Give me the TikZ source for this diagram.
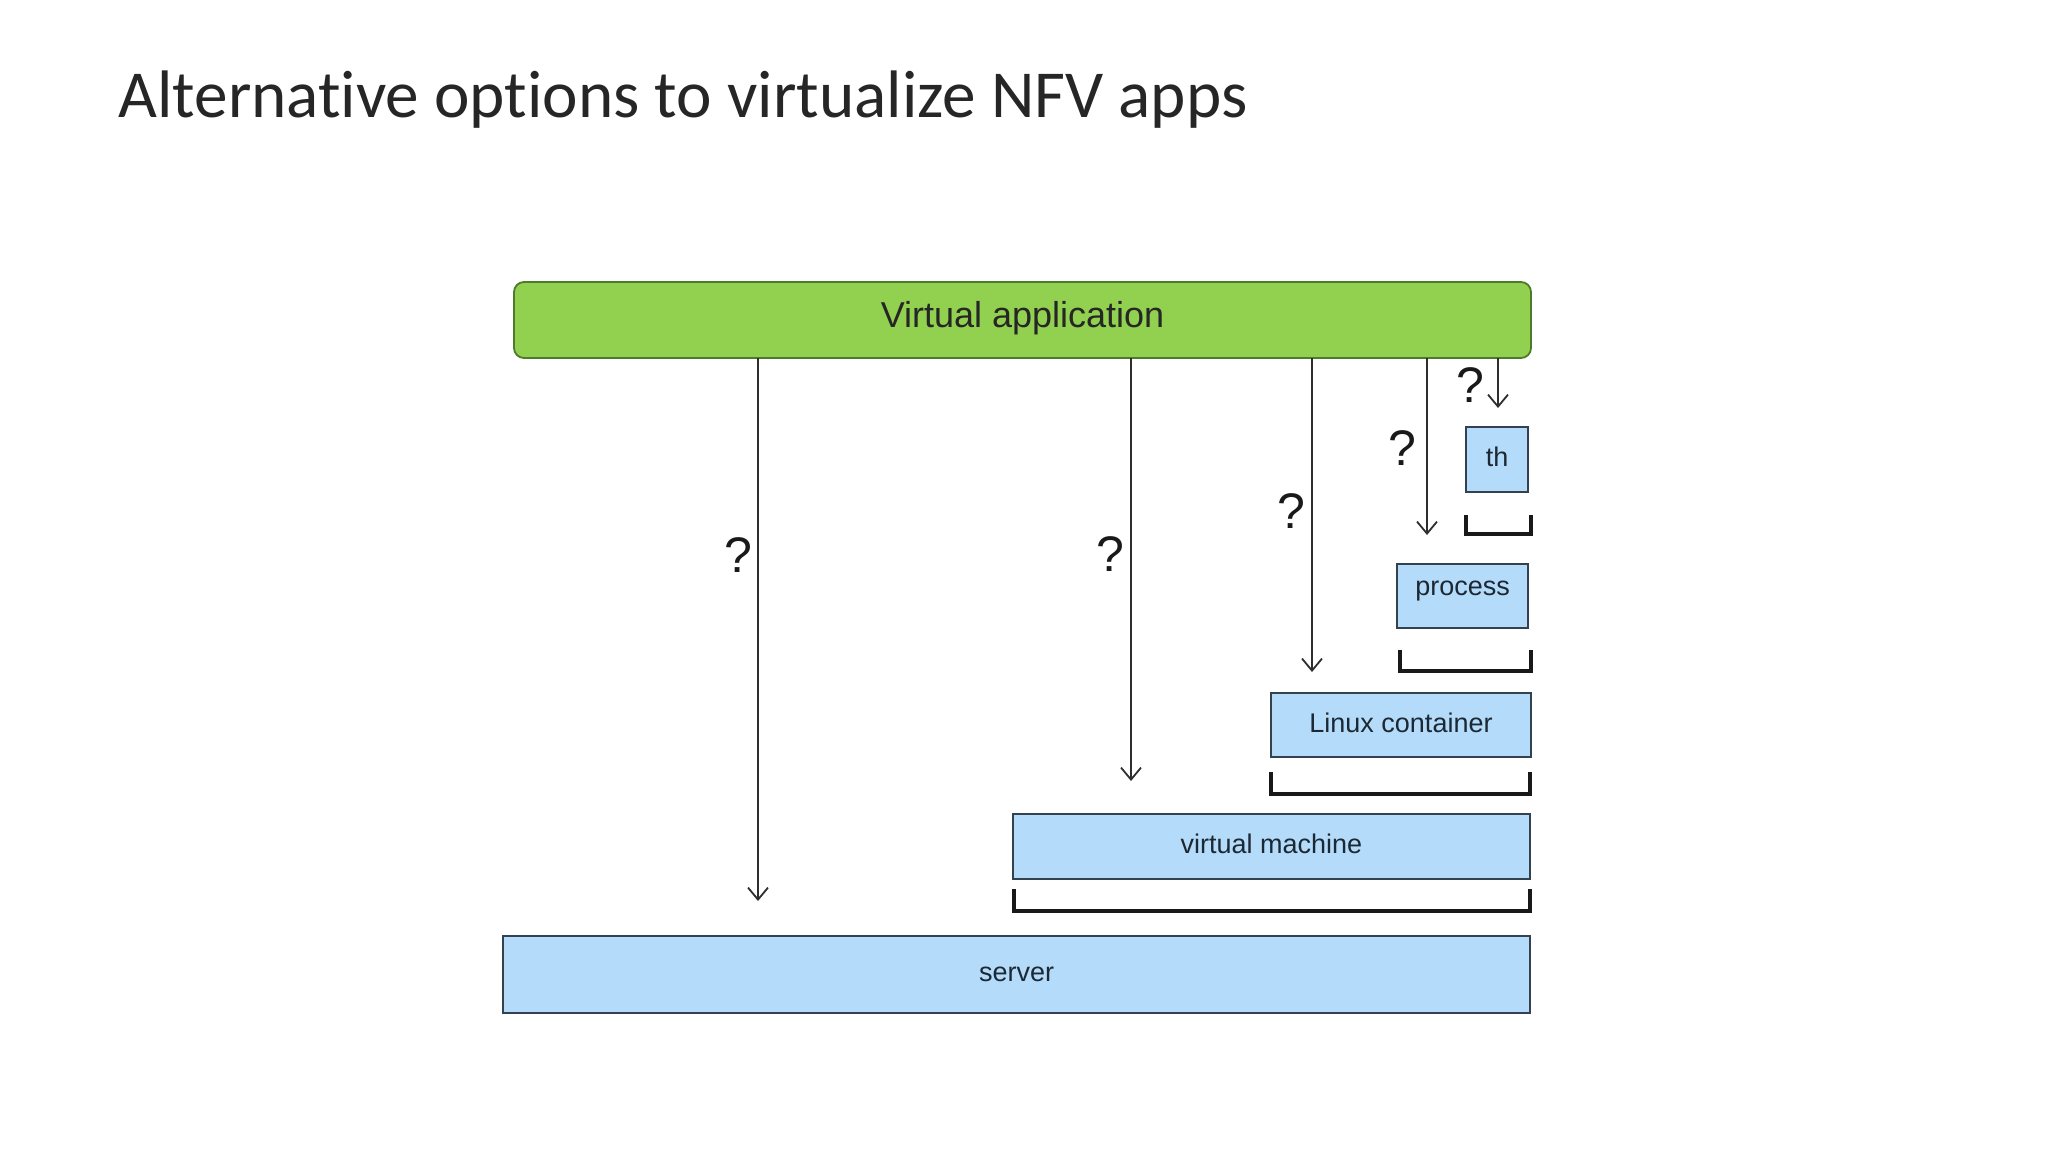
\documentclass[tikz,border=0pt]{standalone}
\usepackage{fontspec}
\setmainfont{Liberation Sans}
\newfontfamily\titlefont[Ligatures=NoCommon]{Carlito}
\usetikzlibrary{arrows.meta}
\definecolor{appgreen}{HTML}{92D050}
\definecolor{appgreenline}{HTML}{4F7A2C}
\definecolor{boxblue}{HTML}{B4DCFA}
\definecolor{boxline}{HTML}{34414E}
\definecolor{labelink}{HTML}{1C2833}
\definecolor{arrowgray}{HTML}{2E2E2E}
\tikzset{
  layer/.style={draw=boxline, fill=boxblue, line width=0.9pt, inner sep=0pt, outer sep=0pt,
    text=labelink, font=\fontsize{13.5}{16}\selectfont, text height=0.72em, text depth=0pt},
  appbar/.style={draw=appgreenline, fill=appgreen, line width=0.9pt, rounded corners=5pt,
    inner sep=0pt, outer sep=0pt, text=black!85, font=\fontsize{18}{21}\selectfont,
    text height=0.72em, text depth=0pt},
  choice/.style={->, >={Straight Barb[length=6pt,width=10pt]}, draw=arrowgray, line width=0.9pt},
  bracketline/.style={draw=black!90, line width=2.2pt},
  qmark/.style={inner sep=0pt, font=\fontsize{25}{28}\selectfont, text=black!90}
}
\begin{document}
\begin{tikzpicture}[x=0.5pt, y=-0.5pt]
\useasboundingbox[fill=white] (0,0) rectangle (2048,1152);

% title
\node[anchor=base west, inner sep=0pt, font=\titlefont\fontsize{33.6}{40}\selectfont, text=black!85]
  (title) at (118,117) {Alternative options to virtualize NFV apps};

% virtual application bar
\node[appbar, minimum width=508.5pt, minimum height=38pt] (va) at (1022.5,320) {Virtual application};

% layers
\node[layer, minimum width=31pt, minimum height=32.5pt] (th) at (1497,459.5) {th};
\node[layer, minimum width=65.5pt, minimum height=32pt] (proc) at (1462.5,596) {\raisebox{4pt}{process}};
\node[layer, minimum width=130pt, minimum height=32pt] (lxc) at (1401,725) {Linux container};
\node[layer, minimum width=258.5pt, minimum height=32.5pt] (vm) at (1271.5,846.5) {virtual machine};
\node[layer, minimum width=513.5pt, minimum height=38.5pt] (srv) at (1016.5,974.5) {server};

% brackets
\draw[bracketline] (1466,515) -- (1466,534) -- (1531,534) -- (1531,515);
\draw[bracketline] (1400,650) -- (1400,671) -- (1531,671) -- (1531,650);
\draw[bracketline] (1271,772) -- (1271,794) -- (1530,794) -- (1530,772);
\draw[bracketline] (1014,889) -- (1014,911) -- (1530,911) -- (1530,889);

% arrow tips
\coordinate (t1) at (758,901);
\coordinate (t2) at (1131,781);
\coordinate (t3) at (1312,672);
\coordinate (t4) at (1427,535);
\coordinate (t5) at (1498,408);

\draw[choice] (t1 |- va.south) -- (t1);
\draw[choice] (t2 |- va.south) -- (t2);
\draw[choice] (t3 |- va.south) -- (t3);
\draw[choice] (t4 |- va.south) -- (t4);
\draw[choice] (t5 |- va.south) -- (t5);

% question marks
\node[qmark] (q1) at (738,555) {?};
\node[qmark] (q2) at (1110,554) {?};
\node[qmark] (q3) at (1291,511) {?};
\node[qmark] (q4) at (1402,448) {?};
\node[qmark] (q5) at (1470,385) {?};
\end{tikzpicture}
\end{document}
